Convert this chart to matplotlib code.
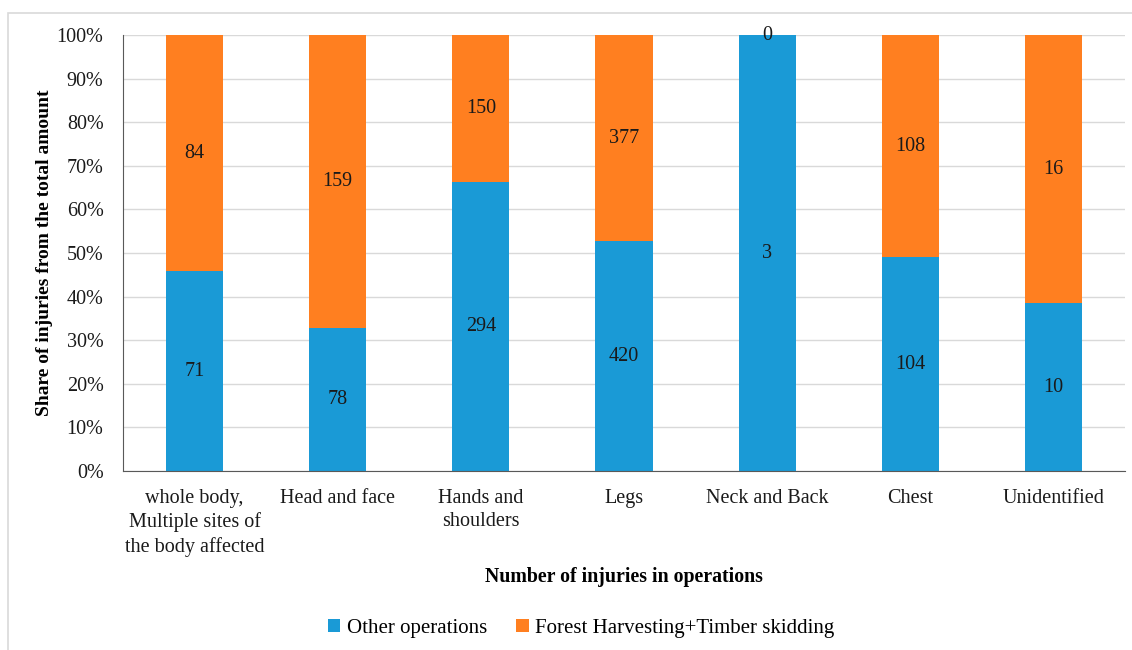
import matplotlib.pyplot as plt
from matplotlib.patches import Rectangle
import numpy as np

categories = ["whole body,\nMultiple sites of\nthe body affected", "Head and face",
              "Hands and\nshoulders", "Legs", "Neck and Back", "Chest", "Unidentified"]
other_ops = [71, 78, 294, 420, 3, 104, 10]
forest_ops = [84, 159, 150, 377, 0, 108, 16]

blue = "#1a9ad6"
orange = "#ff7f20"

plt.rcParams['font.family'] = ['Liberation Serif', 'DejaVu Serif']

other = np.array(other_ops, dtype=float)
forest = np.array(forest_ops, dtype=float)
total = other + forest
p_other = other / total * 100
p_forest = forest / total * 100
x = np.arange(len(categories))

fig = plt.figure(figsize=(11.32, 6.5), dpi=100)
# light frame around the chart
fig.patches.append(Rectangle((8 / 1132, -0.1), 1.2, 1 - 13 / 650 + 0.1, transform=fig.transFigure,
                             fill=False, edgecolor="#d9d9d9", linewidth=1.2))
ax = fig.add_axes([123 / 1132, 1 - 471 / 650, (1125 - 123) / 1132, (471 - 35) / 650])

b1 = ax.bar(x, p_other, width=0.4, color=blue, label="Other operations", zorder=2)
b2 = ax.bar(x, p_forest, width=0.4, bottom=p_other, color=orange,
            label="Forest Harvesting+Timber skidding", zorder=2)

for i in range(len(x)):
    ax.text(x[i], p_other[i] / 2, str(other_ops[i]), ha="center", va="center", fontsize=14.5, color="#1a1a1a")
    ax.text(x[i], p_other[i] + p_forest[i] / 2, str(forest_ops[i]), ha="center", va="center",
            fontsize=14.5, color="#1a1a1a")

ax.set_xlim(-0.5, len(x) - 0.5)
ax.set_ylim(0, 100)
ax.set_yticks(np.arange(0, 101, 10))
ax.set_yticklabels([f"{v}%" for v in range(0, 101, 10)])
ax.set_xticks(x)
ax.set_xticklabels(categories, linespacing=1.3)
ax.tick_params(axis="both", length=0, labelsize=14.5, colors="#1a1a1a")
ax.tick_params(axis="y", pad=14)
ax.tick_params(axis="x", pad=13)
ax.yaxis.grid(True, color="#d9d9d9", linewidth=1, zorder=0)
ax.set_axisbelow(True)
for s in ["top", "right"]:
    ax.spines[s].set_visible(False)
ax.spines["left"].set_color("#595959")
ax.spines["bottom"].set_color("#595959")

ax.yaxis.set_label_coords(-70 / 1002, 0.5)
ax.set_ylabel("Share of injuries from the total amount", fontsize=14, fontweight="bold")
fig.text(624 / 1132, 1 - 577 / 650, "Number of injuries in operations", ha="center", va="center",
         fontsize=14.3, fontweight="bold")

fig.legend(handles=[b1, b2], loc="center", bbox_to_anchor=(581 / 1132, 1 - 628 / 650), ncol=2,
           frameon=False, fontsize=15, handlelength=0.6, handleheight=0.6, handletextpad=0.3,
           columnspacing=1.4)

fig.savefig("out.png", dpi=100)
